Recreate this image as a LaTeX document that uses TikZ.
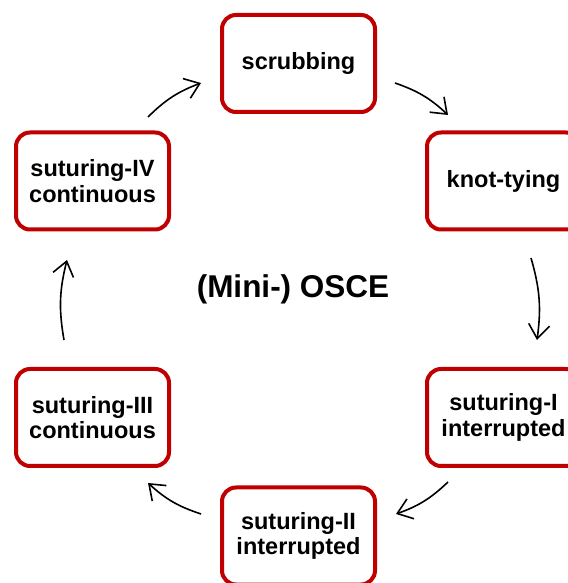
\documentclass[tikz,border=0pt]{standalone}
\usepackage{fontspec}
\setmainfont{Liberation Sans}
\usetikzlibrary{arrows.meta,calc}
\definecolor{boxred}{HTML}{C00000}
\begin{document}
\begin{tikzpicture}[x=1pt,y=1pt,
  station/.style={draw=boxred, line width=4pt, rounded corners=14pt, fill=white,
    minimum width=153pt, minimum height=97pt, align=center,
    font=\fontsize{23.5}{25.5}\selectfont\bfseries},
  flow/.style={line width=1.6pt, -{Straight Barb[length=14pt,width=21pt]}, bend left=12}]
\useasboundingbox (0,0) rectangle (567,583);

% exam stations arranged in a ring
\node[station] (scrub) at (298.5,519.5) {scrubbing};
\node[station] (knot)  at (503.5,402)   {knot-tying};
\node[station] (s1)    at (503.5,165.5) {suturing-I\\interrupted};
\node[station] (s2)    at (298.5,47)    {suturing-II\\interrupted};
\node[station] (s3)    at (92.5,165.5)  {suturing-III\\continuous};
\node[station] (s4)    at (92.5,402)    {suturing-IV\\continuous};

\node[font=\fontsize{31.5}{34}\selectfont\bfseries] (title) at (293,294) {(Mini-) OSCE};

% end points of the rotation arrows
\coordinate (a1) at ($(scrub.center)+(96.5,-19.5)$);
\coordinate (b1) at ($(knot.center)+(-55.5,66)$);
\coordinate (a2) at ($(knot.center)+(27.5,-77)$);
\coordinate (b2) at ($(s1.center)+(33.5,77.5)$);
\coordinate (a3) at ($(s1.center)+(-55.5,-64.5)$);
\coordinate (b3) at ($(s2.center)+(97.5,22)$);
\coordinate (a4) at ($(s2.center)+(-97.5,22)$);
\coordinate (b4) at ($(s3.center)+(55.5,-65.5)$);
\coordinate (a5) at ($(s3.center)+(-28.5,77.5)$);
\coordinate (b5) at ($(s4.center)+(-25.5,-79)$);
\coordinate (a6) at ($(s4.center)+(55.5,64)$);
\coordinate (b6) at ($(scrub.center)+(-97.5,-19.5)$);

\draw[flow] (a1) to (b1);
\draw[flow] (a2) to (b2);
\draw[flow] (a3) to (b3);
\draw[flow] (a4) to (b4);
\draw[flow] (a5) to (b5);
\draw[flow] (a6) to (b6);
\end{tikzpicture}
\end{document}
